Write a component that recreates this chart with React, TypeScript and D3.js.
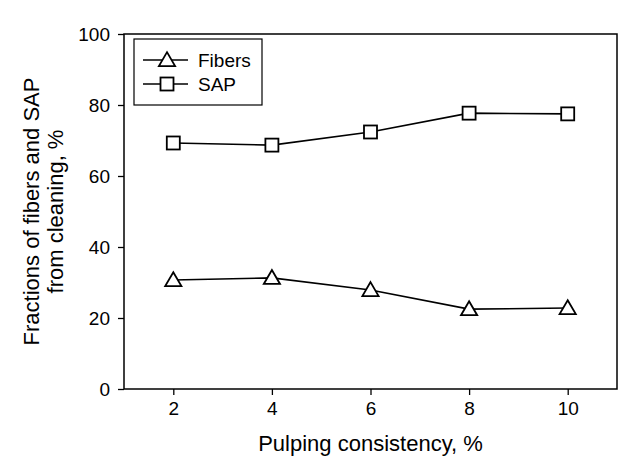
import React, { useRef, useEffect } from "react";
import * as d3 from "d3";

const consistency = [2, 4, 6, 8, 10];
const fibers = [30.7, 31.3, 27.9, 22.5, 22.8];
const sap = [69.3, 68.7, 72.4, 77.7, 77.5];
const xTicks = [2, 4, 6, 8, 10];
const yTicks = [0, 20, 40, 60, 80, 100];

const W = 626;
const H = 470;
const margin = { left: 124, right: 9, top: 34, bottom: 81 };

export default function App() {
  const svgRef = useRef<SVGSVGElement>(null);

  useEffect(() => {
    if (!svgRef.current) return;
    const svg = d3.select(svgRef.current);
    svg.selectAll("*").remove();

    const x = d3.scaleLinear().domain([1, 11]).range([margin.left, W - margin.right]);
    const y = d3.scaleLinear().domain([0, 100]).range([H - margin.bottom, margin.top]);
    const font = "'Liberation Sans', Arial, sans-serif";

    // frame
    svg
      .append("rect")
      .attr("x", x(1))
      .attr("y", y(100))
      .attr("width", x(11) - x(1))
      .attr("height", y(0) - y(100))
      .attr("fill", "none")
      .attr("stroke", "#000")
      .attr("stroke-width", 1.5);

    const xAxis = svg
      .append("g")
      .attr("transform", `translate(0,${y(0)})`)
      .call(d3.axisBottom(x).tickValues(xTicks).tickSize(6).tickPadding(7).tickFormat(d3.format("d")));
    const yAxis = svg
      .append("g")
      .attr("transform", `translate(${x(1)},0)`)
      .call(d3.axisLeft(y).tickValues(yTicks).tickSize(6).tickPadding(8).tickFormat(d3.format("d")));

    [xAxis, yAxis].forEach((g) => {
      g.select(".domain").remove();
      g.selectAll("line").attr("stroke", "#000").attr("stroke-width", 1.3);
      g.selectAll("text").attr("font-family", font).attr("font-size", 19).attr("fill", "#000");
    });

    const line = d3
      .line<number>()
      .x((_, i) => x(consistency[i]))
      .y((d) => y(d));

    const triangle = (cx: number, cy: number, s: number) =>
      `M${cx},${cy - s * 0.58}L${cx + s * 0.6},${cy + s * 0.45}L${cx - s * 0.6},${cy + s * 0.45}Z`;

    // Fibers
    svg.append("path").attr("d", line(fibers)).attr("fill", "none").attr("stroke", "#000").attr("stroke-width", 1.6);
    svg
      .selectAll(".tri")
      .data(fibers)
      .enter()
      .append("path")
      .attr("d", (d, i) => triangle(x(consistency[i]), y(d), 13.5))
      .attr("fill", "#fff")
      .attr("stroke", "#000")
      .attr("stroke-width", 1.8);

    // SAP
    svg.append("path").attr("d", line(sap)).attr("fill", "none").attr("stroke", "#000").attr("stroke-width", 1.6);
    svg
      .selectAll(".sq")
      .data(sap)
      .enter()
      .append("rect")
      .attr("x", (_, i) => x(consistency[i]) - 6.5)
      .attr("y", (d) => y(d) - 6.5)
      .attr("width", 13)
      .attr("height", 13)
      .attr("fill", "#fff")
      .attr("stroke", "#000")
      .attr("stroke-width", 1.8);

    // legend
    const lg = svg.append("g");
    lg.append("rect")
      .attr("x", 134)
      .attr("y", 39)
      .attr("width", 128)
      .attr("height", 66)
      .attr("fill", "#fff")
      .attr("stroke", "#000")
      .attr("stroke-width", 1.2);
    const items = [
      { label: "Fibers", y: 60, shape: "tri" },
      { label: "SAP", y: 84, shape: "sq" },
    ];
    items.forEach((it) => {
      lg.append("line").attr("x1", 143).attr("x2", 188).attr("y1", it.y).attr("y2", it.y).attr("stroke", "#000").attr("stroke-width", 1.6);
      if (it.shape === "tri") {
        lg.append("path").attr("d", triangle(167, it.y, 13.5)).attr("fill", "#fff").attr("stroke", "#000").attr("stroke-width", 1.8);
      } else {
        lg.append("rect").attr("x", 160.5).attr("y", it.y - 6.5).attr("width", 13).attr("height", 13).attr("fill", "#fff").attr("stroke", "#000").attr("stroke-width", 1.8);
      }
      lg.append("text")
        .attr("x", 198)
        .attr("y", it.y)
        .attr("dy", "0.35em")
        .attr("font-family", font)
        .attr("font-size", 19)
        .text(it.label);
    });

    // axis titles
    svg
      .append("text")
      .attr("x", (x(1) + x(11)) / 2)
      .attr("y", 451)
      .attr("text-anchor", "middle")
      .attr("font-family", font)
      .attr("font-size", 22)
      .text("Pulping consistency, %");

    const yl = svg
      .append("text")
      .attr("transform", `translate(0,${(y(0) + y(100)) / 2}) rotate(-90)`)
      .attr("text-anchor", "middle")
      .attr("font-family", font)
      .attr("font-size", 22);
    yl.append("tspan").attr("x", 0).attr("y", 39).text("Fractions of fibers and SAP");
    yl.append("tspan").attr("x", 0).attr("y", 63).text("from cleaning, %");
  }, []);

  return (
    <div style={{ margin: -8 }}>
      <svg ref={svgRef} width={W} height={H} style={{ display: "block", background: "#fff" }} />
    </div>
  );
}
